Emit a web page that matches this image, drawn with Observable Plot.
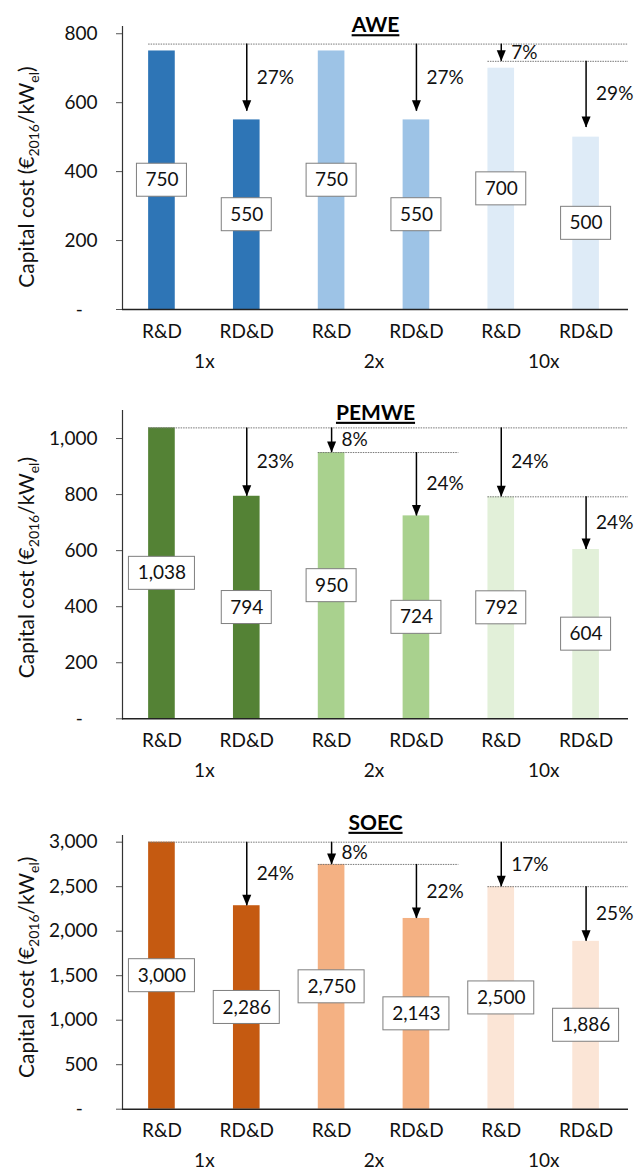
<!DOCTYPE html>
<html><head><meta charset="utf-8">
<script src="https://cdn.jsdelivr.net/npm/d3@7"></script>
<script src="https://cdn.jsdelivr.net/npm/@observablehq/plot@0.6"></script>
<style>
body{margin:0;background:#fff;}
#chart{width:636px;}
#chart svg{display:block;background:#fff;}
</style></head><body><div id="chart"></div>
<script>
// ---- data ----
const categories = ["R&D","RD&D","R&D","RD&D","R&D","RD&D"];
const groups = ["1x","2x","10x"];
const titles = ["AWE","PEMWE","SOEC"];
const yLabel = "Capital cost (€2016/kWel)";

const aweValues   = [750, 550, 750, 550, 700, 500];
const pemweValues = [1038, 794, 950, 724, 792, 604];
const soecValues  = [3000, 2286, 2750, 2143, 2500, 1886];

const aweColors   = ["#2E75B6","#2E75B6","#9DC3E6","#9DC3E6","#DEEBF7","#DEEBF7"];
const pemweColors = ["#548235","#548235","#A9D18E","#A9D18E","#E2F0D9","#E2F0D9"];
const soecColors  = ["#C55A11","#C55A11","#F4B183","#F4B183","#FBE5D6","#FBE5D6"];

const aweTicks   = [0, 200, 400, 600, 800];
const pemweTicks = [0, 200, 400, 600, 800, 1000];
const soecTicks  = [0, 500, 1000, 1500, 2000, 2500, 3000];
const aweMax = 821, pemweMax = 1100, soecMax = 3075;

// reduction arrows: bar index, start level, end level, label
const aweArrowBars   = [1, 3, 4, 5];
const aweArrowFrom   = [770, 770, 770, 720];
const aweArrowTo     = [575, 575, 720, 528];
const aweArrowLabels = ["27%", "27%", "7%", "29%"];

const pemweArrowBars   = [1, 2, 3, 4, 5];
const pemweArrowFrom   = [1038, 1038, 950, 1038, 792];
const pemweArrowTo     = [794, 950, 724, 792, 604];
const pemweArrowLabels = ["23%", "8%", "24%", "24%", "24%"];

const soecArrowBars   = [1, 2, 3, 4, 5];
const soecArrowFrom   = [3000, 3000, 2750, 3000, 2500];
const soecArrowTo     = [2286, 2750, 2143, 2500, 1886];
const soecArrowLabels = ["24%", "8%", "22%", "17%", "25%"];

// dotted reference levels: level, first bar, last bar
const aweGuideLevels = [770, 720];
const aweGuideStart  = [0, 4];
const aweGuideEnd    = [5, 5];
const pemweGuideLevels = [1038, 950, 792];
const pemweGuideStart  = [0, 2, 4];
const pemweGuideEnd    = [5, 3, 5];
const soecGuideLevels = [3000, 2750, 2500];
const soecGuideStart  = [0, 2, 4];
const soecGuideEnd    = [5, 3, 5];

// ---- drawing ----
const FONT = "Lato, 'Open Sans', sans-serif";
const fmt = d3.format(",");
const HALF = 0.157; // half bar width in band units

const arrowHead = {draw(ctx) { ctx.moveTo(0, 0); ctx.lineTo(-4.5, -11); ctx.lineTo(4.5, -11); ctx.closePath(); }};

function panel(cfg) {
  const bars = cfg.values.map((v, i) => ({i, v, cat: categories[i], color: cfg.colors[i], lab: fmt(v)}));
  const arrows = cfg.arrowBars.map((b, k) => ({bar: b, from: cfg.arrowFrom[k], to: cfg.arrowTo[k], label: cfg.arrowLabels[k]}));
  const guides = cfg.guideLevels.map((l, k) => ({level: l, start: cfg.guideStart[k], end: cfg.guideEnd[k]}));
  const boxStyle = {fill: "white", stroke: "#7f7f7f", strokeWidth: 1, insetTop: -16.5, insetBottom: -16.5};
  const svg = Plot.plot({
    width: 636, height: cfg.height,
    marginLeft: 122, marginRight: 8, marginTop: cfg.mt, marginBottom: cfg.mb,
    style: {fontFamily: FONT, fontSize: "19px", color: "#111", background: "#fff"},
    x: {type: "linear", domain: [-0.465, 5.5], axis: null},
    y: {domain: [0, cfg.max], axis: null},
    color: {type: "identity"},
    marks: [
      Plot.rectY(bars, {x1: d => d.i - HALF, x2: d => d.i + HALF, y: "v", fill: "color"}),
      Plot.ruleY(guides, {y: "level", x1: d => d.start - HALF, x2: d => d.end + 0.5, stroke: "#777", strokeWidth: 1, strokeDasharray: "1.5,1"}),
      Plot.axisY({ticks: cfg.ticks, tickSize: 6, tickPadding: 19, fontSize: 19, stroke: "#555", label: null,
        tickFormat: d => d === 0 ? "-\u00a0\u00a0\u00a0" : fmt(d)}),
      Plot.frame({anchor: "left", stroke: "#333", strokeWidth: 1.2}),
      Plot.ruleY([0], {stroke: "#222", strokeWidth: 1.4}),
      Plot.ruleX(arrows, {x: "bar", y1: "from", y2: "to", stroke: "#000", strokeWidth: 1.5}),
      Plot.dot(arrows, {x: "bar", y: "to", symbol: arrowHead, fill: "#000", stroke: null, r: 5}),
      Plot.text(arrows, {x: "bar", y: d => (d.from + d.to) / 2, text: "label", textAnchor: "start", dx: 10, fontSize: 19, fill: "#111"}),
      Plot.rect(bars.filter(d => d.lab.length <= 3), {x1: "i", x2: "i", y1: d => d.v / 2, y2: d => d.v / 2, insetLeft: -25, insetRight: -25, ...boxStyle}),
      Plot.rect(bars.filter(d => d.lab.length > 3), {x1: "i", x2: "i", y1: d => d.v / 2, y2: d => d.v / 2, insetLeft: -33, insetRight: -33, ...boxStyle}),
      Plot.text(bars, {x: "i", y: d => d.v / 2, text: "lab", fontSize: 19, fill: "#111"}),
      Plot.text(bars, {x: "i", text: "cat", frameAnchor: "bottom", dy: 28, fontSize: 19, fill: "#111"}),
      Plot.text(groups, {x: (d, i) => 2 * i + 0.5, text: d => d, frameAnchor: "bottom", dy: 58, fontSize: 19, fill: "#111"}),
      Plot.text([cfg.title], {frameAnchor: "top", lineAnchor: "bottom", dy: cfg.titleDy, fontSize: 21, fontWeight: "bold", fill: "#000"}),
      Plot.text([yLabel], {frameAnchor: "left", textAnchor: "middle", lineAnchor: "middle", rotate: -90, dx: -95, dy: cfg.labelDy, fontSize: 21, fill: "#111"})
    ]
  });
  // subscripts and title underline
  svg.querySelectorAll("text").forEach(t => {
    if (t.textContent === yLabel) {
      t.textContent = "";
      const parts = [["Capital cost (€", 0], ["2016", 1], ["/kW", 0], ["el", 1], [")", 0]];
      let shifted = false;
      for (const [s, sub] of parts) {
        const ts = document.createElementNS("http://www.w3.org/2000/svg", "tspan");
        ts.textContent = s;
        if (sub) { ts.setAttribute("font-size", "14"); ts.setAttribute("dy", "4.5"); shifted = true; }
        else if (shifted) { ts.setAttribute("dy", "-4.5"); shifted = false; }
        t.appendChild(ts);
      }
    }
    if (t.textContent === cfg.title) t.style.textDecoration = "underline";
  });
  return svg;
}

const chart = document.getElementById("chart");
chart.appendChild(panel({title: titles[0], values: aweValues, colors: aweColors, ticks: aweTicks, max: aweMax,
  arrowBars: aweArrowBars, arrowFrom: aweArrowFrom, arrowTo: aweArrowTo, arrowLabels: aweArrowLabels,
  guideLevels: aweGuideLevels, guideStart: aweGuideStart, guideEnd: aweGuideEnd,
  height: 390, mt: 26, mb: 81, titleDy: 5.7, labelDy: 9}));
chart.appendChild(panel({title: titles[1], values: pemweValues, colors: pemweColors, ticks: pemweTicks, max: pemweMax,
  arrowBars: pemweArrowBars, arrowFrom: pemweArrowFrom, arrowTo: pemweArrowTo, arrowLabels: pemweArrowLabels,
  guideLevels: pemweGuideLevels, guideStart: pemweGuideStart, guideEnd: pemweGuideEnd,
  height: 410, mt: 20, mb: 81.7, titleDy: 9.3, labelDy: 3}));
chart.appendChild(panel({title: titles[2], values: soecValues, colors: soecColors, ticks: soecTicks, max: soecMax,
  arrowBars: soecArrowBars, arrowFrom: soecArrowFrom, arrowTo: soecArrowTo, arrowLabels: soecArrowLabels,
  guideLevels: soecGuideLevels, guideStart: soecGuideStart, guideEnd: soecGuideEnd,
  height: 374, mt: 35, mb: 65.3, titleDy: -5.7, labelDy: -5}));
</script></body></html>
